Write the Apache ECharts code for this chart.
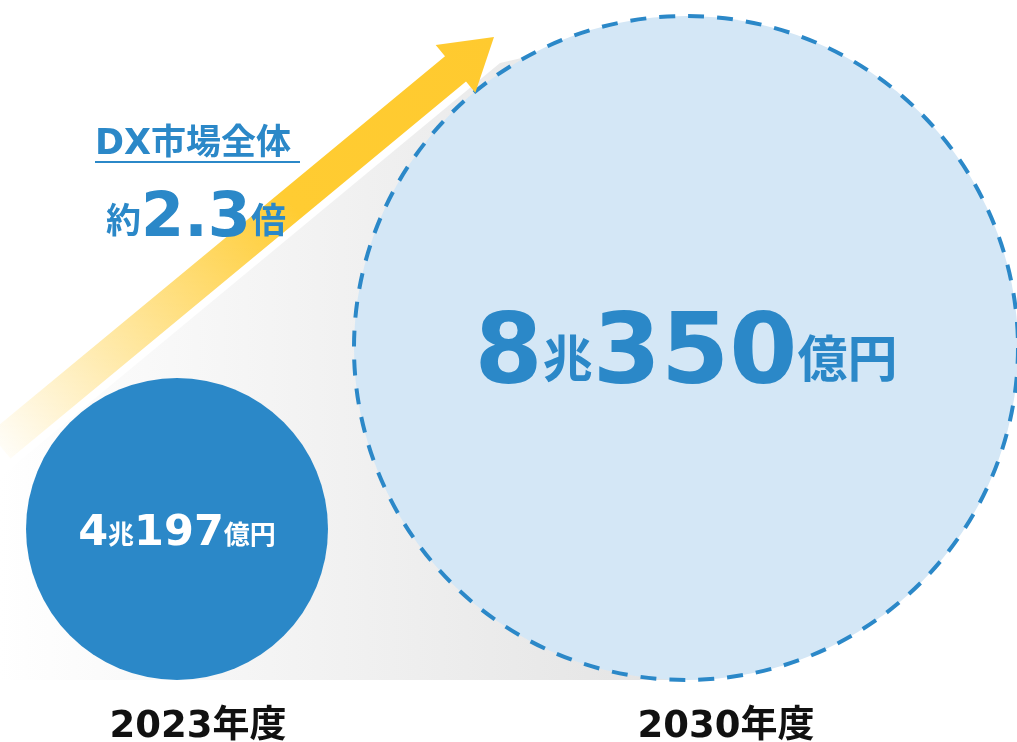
<!DOCTYPE html>
<html>
<head>
<meta charset="utf-8">
<script src="https://cdn.jsdelivr.net/npm/echarts@6/dist/echarts.min.js"></script>
<style>html,body{margin:0;padding:0;background:#fff}#c{width:1017px;height:742px}</style>
</head>
<body>
<div id="c"></div>
<script>
// ---- data ----
const categories = ['2023年度', '2030年度'];
const marketValues = [40197, 80350]; // 億円
const growthRatio = 2.3;
const headline = 'DX市場全体';

// ---- styles ----
const BLUE = '#2B88C8';
const LIGHT = '#D4E7F6';
const LATIN = '"DejaVu Sans", "Noto Sans CJK JP", sans-serif';
const CJK = '"Noto Sans CJK JP", sans-serif';
const itemStyles = [
  { size: 302, itemStyle: { color: BLUE, opacity: 1 }, num: 43, unit: 26, color: '#fff', offset: [0, 5] },
  { size: 664, itemStyle: { color: LIGHT, opacity: 1, borderColor: BLUE, borderWidth: 4, borderType: [16, 13] }, num: 98, unit: 50, color: BLUE, offset: [0, 10] }
];
const labelPad = [[0, 0, 0, 42], [0, 0, 0, 80]];

function splitOku(v) { return { cho: Math.floor(v / 10000), oku: v % 10000 }; }

const seriesData = categories.map((c, i) => {
  const s = itemStyles[i];
  const p = splitOku(marketValues[i]);
  return {
    value: [c, 0],
    symbolSize: s.size,
    itemStyle: s.itemStyle,
    label: {
      show: true,
      position: 'inside',
      offset: s.offset,
      opacity: 1,
      formatter: '{n|' + p.cho + '}{u|兆}{n|' + p.oku + '}{u|億円}',
      rich: {
        n: { fontFamily: LATIN, fontWeight: 'bold', fontSize: s.num, color: s.color },
        u: { fontFamily: CJK, fontWeight: 'bold', fontSize: s.unit, color: s.color }
      }
    }
  };
});

const chart = echarts.init(document.getElementById('c'), null, { renderer: 'canvas' });
chart.setOption({
  animation: false,
  grid: { left: 177, right: 331, top: 0, bottom: 62, containLabel: false, outerBoundsMode: 'none' },
  xAxis: {
    type: 'category',
    data: categories,
    boundaryGap: false,
    axisLine: { show: false },
    axisTick: { show: false },
    axisLabel: {
      margin: 29,
      formatter: (v, i) => '{l' + i + '|' + v + '}',
      rich: {
        l0: { fontFamily: LATIN, fontWeight: 'bold', fontSize: 37, color: '#111', padding: labelPad[0] },
        l1: { fontFamily: LATIN, fontWeight: 'bold', fontSize: 37, color: '#111', padding: labelPad[1] }
      }
    }
  },
  yAxis: { type: 'value', min: 0, max: 1, show: false },
  graphic: [
    {
      type: 'polygon', z: 0, silent: true,
      shape: { points: [[0, 477], [500, 63], [686, 20], [686, 680], [0, 680]] },
      style: {
        fill: new echarts.graphic.LinearGradient(0, 0, 1, 0, [
          { offset: 0, color: '#ffffff' },
          { offset: 1, color: '#e3e3e3' }
        ])
      }
    },
    {
      type: 'polygon', z: 100, silent: true,
      shape: { points: [[-10.5, 433], [445, 56.2], [435.7, 45], [494, 37], [475.3, 92.8], [466, 81.6], [10.5, 458.4]] },
      style: {
        fill: new echarts.graphic.LinearGradient(0, 1, 1, 0, [
          { offset: 0, color: 'rgba(255,202,47,0)' },
          { offset: 0.6, color: 'rgba(255,204,50,1)' },
          { offset: 1, color: '#FFCA2F' }
        ])
      }
    },
    {
      type: 'text', z: 110, silent: true,
      style: { text: headline, x: 95, y: 145, font: 'bold 35px ' + LATIN, fill: BLUE, textAlign: 'left', textVerticalAlign: 'middle' }
    },
    {
      type: 'rect', z: 110, silent: true,
      shape: { x: 95, y: 161, width: 205, height: 2 },
      style: { fill: BLUE }
    },
    {
      type: 'text', z: 110, silent: true,
      style: {
        text: '{a|約}{b|' + growthRatio + '}{a|倍}',
        x: 196, y: 220, textAlign: 'center', textVerticalAlign: 'middle',
        rich: {
          a: { fontFamily: CJK, fontWeight: 'bold', fontSize: 35, fill: BLUE, color: BLUE },
          b: { fontFamily: LATIN, fontWeight: 'bold', fontSize: 62, fill: BLUE, color: BLUE }
        }
      }
    }
  ],
  series: [{
    type: 'scatter',
    symbol: 'circle',
    symbolOffset: [0, '-50%'],
    itemStyle: { opacity: 1 },
    emphasis: { disabled: true },
    data: seriesData
  }]
});
</script>
</body>
</html>
